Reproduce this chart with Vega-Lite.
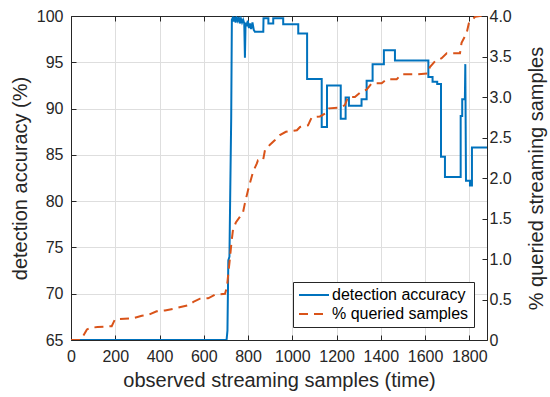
{
  "$schema": "https://vega.github.io/schema/vega-lite/v6.json",
  "width": 416,
  "height": 324,
  "autosize": {"type": "none"},
  "padding": {"left": 71, "top": 16, "right": 63, "bottom": 57},
  "config": {
    "view": {"stroke": null},
    "font": "Liberation Sans",
    "axis": {
      "domainColor": "#262626",
      "domainWidth": 1,
      "tickColor": "#262626",
      "tickSize": -5,
      "tickWidth": 1,
      "labelColor": "#262626",
      "labelFont": "Liberation Sans",
      "labelFontSize": 16,
      "titleColor": "#262626",
      "titleFont": "Liberation Sans",
      "titleFontSize": 20,
      "titleFontWeight": "normal",
      "gridColor": "#dedede",
      "gridWidth": 1
    }
  },
  "data": {
    "values": [
      {"series": "detection accuracy", "t": 0, "v": 65},
      {"series": "detection accuracy", "t": 703, "v": 65},
      {"series": "detection accuracy", "t": 707, "v": 66},
      {"series": "detection accuracy", "t": 711, "v": 73.6},
      {"series": "detection accuracy", "t": 716, "v": 74},
      {"series": "detection accuracy", "t": 720, "v": 81.6},
      {"series": "detection accuracy", "t": 724, "v": 89},
      {"series": "detection accuracy", "t": 727, "v": 99.6},
      {"series": "detection accuracy", "t": 731, "v": 99.8},
      {"series": "detection accuracy", "t": 735, "v": 99.4},
      {"series": "detection accuracy", "t": 739, "v": 99.9},
      {"series": "detection accuracy", "t": 744, "v": 99.3},
      {"series": "detection accuracy", "t": 748, "v": 99.8},
      {"series": "detection accuracy", "t": 753, "v": 99.5},
      {"series": "detection accuracy", "t": 758, "v": 99.9},
      {"series": "detection accuracy", "t": 763, "v": 99.2},
      {"series": "detection accuracy", "t": 768, "v": 99.7},
      {"series": "detection accuracy", "t": 773, "v": 99.3},
      {"series": "detection accuracy", "t": 778, "v": 99.6},
      {"series": "detection accuracy", "t": 783, "v": 99.2},
      {"series": "detection accuracy", "t": 786, "v": 95.5},
      {"series": "detection accuracy", "t": 789, "v": 99.3},
      {"series": "detection accuracy", "t": 794, "v": 98.9},
      {"series": "detection accuracy", "t": 799, "v": 99.5},
      {"series": "detection accuracy", "t": 804, "v": 98.7},
      {"series": "detection accuracy", "t": 809, "v": 99.2},
      {"series": "detection accuracy", "t": 814, "v": 98.6},
      {"series": "detection accuracy", "t": 820, "v": 99.3},
      {"series": "detection accuracy", "t": 826, "v": 98.5},
      {"series": "detection accuracy", "t": 831, "v": 98.3},
      {"series": "detection accuracy", "t": 869, "v": 98.3},
      {"series": "detection accuracy", "t": 870, "v": 99.75},
      {"series": "detection accuracy", "t": 892, "v": 99.75},
      {"series": "detection accuracy", "t": 892, "v": 99.2},
      {"series": "detection accuracy", "t": 914, "v": 99.2},
      {"series": "detection accuracy", "t": 914, "v": 99.75},
      {"series": "detection accuracy", "t": 959, "v": 99.75},
      {"series": "detection accuracy", "t": 959, "v": 99.1},
      {"series": "detection accuracy", "t": 1027, "v": 99.1},
      {"series": "detection accuracy", "t": 1027, "v": 98.1},
      {"series": "detection accuracy", "t": 1067, "v": 98.1},
      {"series": "detection accuracy", "t": 1067, "v": 93.2},
      {"series": "detection accuracy", "t": 1133, "v": 93.2},
      {"series": "detection accuracy", "t": 1133, "v": 88.0},
      {"series": "detection accuracy", "t": 1157, "v": 88.0},
      {"series": "detection accuracy", "t": 1157, "v": 92.5},
      {"series": "detection accuracy", "t": 1219, "v": 92.5},
      {"series": "detection accuracy", "t": 1219, "v": 88.9},
      {"series": "detection accuracy", "t": 1241, "v": 88.9},
      {"series": "detection accuracy", "t": 1241, "v": 91.2},
      {"series": "detection accuracy", "t": 1256, "v": 91.2},
      {"series": "detection accuracy", "t": 1256, "v": 90.3},
      {"series": "detection accuracy", "t": 1313, "v": 90.3},
      {"series": "detection accuracy", "t": 1313, "v": 91.0},
      {"series": "detection accuracy", "t": 1336, "v": 91.0},
      {"series": "detection accuracy", "t": 1336, "v": 93.0},
      {"series": "detection accuracy", "t": 1363, "v": 93.0},
      {"series": "detection accuracy", "t": 1363, "v": 94.8},
      {"series": "detection accuracy", "t": 1414, "v": 94.8},
      {"series": "detection accuracy", "t": 1414, "v": 96.3},
      {"series": "detection accuracy", "t": 1464, "v": 96.3},
      {"series": "detection accuracy", "t": 1464, "v": 95.2},
      {"series": "detection accuracy", "t": 1615, "v": 95.2},
      {"series": "detection accuracy", "t": 1615, "v": 93.4},
      {"series": "detection accuracy", "t": 1634, "v": 93.4},
      {"series": "detection accuracy", "t": 1634, "v": 92.9},
      {"series": "detection accuracy", "t": 1655, "v": 92.9},
      {"series": "detection accuracy", "t": 1655, "v": 92.65},
      {"series": "detection accuracy", "t": 1672, "v": 92.65},
      {"series": "detection accuracy", "t": 1672, "v": 84.8},
      {"series": "detection accuracy", "t": 1690, "v": 84.8},
      {"series": "detection accuracy", "t": 1690, "v": 82.6},
      {"series": "detection accuracy", "t": 1761, "v": 82.6},
      {"series": "detection accuracy", "t": 1761, "v": 89.2},
      {"series": "detection accuracy", "t": 1768, "v": 89.2},
      {"series": "detection accuracy", "t": 1768, "v": 91.0},
      {"series": "detection accuracy", "t": 1780, "v": 91.0},
      {"series": "detection accuracy", "t": 1782, "v": 94.8},
      {"series": "detection accuracy", "t": 1785, "v": 82.2},
      {"series": "detection accuracy", "t": 1803, "v": 82.2},
      {"series": "detection accuracy", "t": 1803, "v": 81.7},
      {"series": "detection accuracy", "t": 1812, "v": 81.7},
      {"series": "detection accuracy", "t": 1812, "v": 85.8},
      {"series": "detection accuracy", "t": 1880, "v": 85.8},
      {"series": "% queried samples", "t": 0, "v": 0},
      {"series": "% queried samples", "t": 45, "v": 0},
      {"series": "% queried samples", "t": 72, "v": 0.13},
      {"series": "% queried samples", "t": 86, "v": 0.15},
      {"series": "% queried samples", "t": 120, "v": 0.16},
      {"series": "% queried samples", "t": 184, "v": 0.17},
      {"series": "% queried samples", "t": 199, "v": 0.256},
      {"series": "% queried samples", "t": 282, "v": 0.27},
      {"series": "% queried samples", "t": 320, "v": 0.3},
      {"series": "% queried samples", "t": 350, "v": 0.31},
      {"series": "% queried samples", "t": 387, "v": 0.355},
      {"series": "% queried samples", "t": 425, "v": 0.365},
      {"series": "% queried samples", "t": 470, "v": 0.39},
      {"series": "% queried samples", "t": 530, "v": 0.43},
      {"series": "% queried samples", "t": 553, "v": 0.47},
      {"series": "% queried samples", "t": 583, "v": 0.51},
      {"series": "% queried samples", "t": 620, "v": 0.515},
      {"series": "% queried samples", "t": 651, "v": 0.56},
      {"series": "% queried samples", "t": 696, "v": 0.57},
      {"series": "% queried samples", "t": 705, "v": 0.66},
      {"series": "% queried samples", "t": 712, "v": 0.85},
      {"series": "% queried samples", "t": 718, "v": 1.0},
      {"series": "% queried samples", "t": 725, "v": 1.2},
      {"series": "% queried samples", "t": 732, "v": 1.36},
      {"series": "% queried samples", "t": 745, "v": 1.45},
      {"series": "% queried samples", "t": 763, "v": 1.52},
      {"series": "% queried samples", "t": 777, "v": 1.57},
      {"series": "% queried samples", "t": 786, "v": 1.69},
      {"series": "% queried samples", "t": 800, "v": 1.85},
      {"series": "% queried samples", "t": 809, "v": 1.94},
      {"series": "% queried samples", "t": 823, "v": 2.08},
      {"series": "% queried samples", "t": 840, "v": 2.18},
      {"series": "% queried samples", "t": 845, "v": 2.22},
      {"series": "% queried samples", "t": 868, "v": 2.22},
      {"series": "% queried samples", "t": 877, "v": 2.35},
      {"series": "% queried samples", "t": 899, "v": 2.41},
      {"series": "% queried samples", "t": 922, "v": 2.47},
      {"series": "% queried samples", "t": 944, "v": 2.53},
      {"series": "% queried samples", "t": 971, "v": 2.57},
      {"series": "% queried samples", "t": 1021, "v": 2.59},
      {"series": "% queried samples", "t": 1035, "v": 2.63},
      {"series": "% queried samples", "t": 1071, "v": 2.65},
      {"series": "% queried samples", "t": 1088, "v": 2.75},
      {"series": "% queried samples", "t": 1125, "v": 2.76},
      {"series": "% queried samples", "t": 1151, "v": 2.8},
      {"series": "% queried samples", "t": 1166, "v": 2.86},
      {"series": "% queried samples", "t": 1216, "v": 2.87},
      {"series": "% queried samples", "t": 1238, "v": 2.9},
      {"series": "% queried samples", "t": 1252, "v": 3.0},
      {"series": "% queried samples", "t": 1283, "v": 3.0},
      {"series": "% queried samples", "t": 1313, "v": 3.07},
      {"series": "% queried samples", "t": 1336, "v": 3.09},
      {"series": "% queried samples", "t": 1359, "v": 3.17},
      {"series": "% queried samples", "t": 1404, "v": 3.17},
      {"series": "% queried samples", "t": 1427, "v": 3.22},
      {"series": "% queried samples", "t": 1472, "v": 3.22},
      {"series": "% queried samples", "t": 1494, "v": 3.28},
      {"series": "% queried samples", "t": 1569, "v": 3.28},
      {"series": "% queried samples", "t": 1613, "v": 3.29},
      {"series": "% queried samples", "t": 1622, "v": 3.37},
      {"series": "% queried samples", "t": 1645, "v": 3.44},
      {"series": "% queried samples", "t": 1675, "v": 3.48},
      {"series": "% queried samples", "t": 1698, "v": 3.54},
      {"series": "% queried samples", "t": 1758, "v": 3.54},
      {"series": "% queried samples", "t": 1765, "v": 3.67},
      {"series": "% queried samples", "t": 1788, "v": 3.79},
      {"series": "% queried samples", "t": 1798, "v": 3.91},
      {"series": "% queried samples", "t": 1826, "v": 3.99},
      {"series": "% queried samples", "t": 1848, "v": 4.0},
      {"series": "% queried samples", "t": 1880, "v": 4.0}
    ]
  },
  "encoding": {
    "color": {
      "field": "series",
      "type": "nominal",
      "scale": {"domain": ["detection accuracy", "% queried samples"], "range": ["#0072BD", "#D95319"]},
      "legend": {
        "title": null,
        "orient": "none",
        "legendX": 222,
        "legendY": 266,
        "direction": "vertical",
        "strokeColor": "#262626",
        "fillColor": "white",
        "padding": 5,
        "labelFont": "Liberation Sans",
        "labelFontSize": 16,
        "labelColor": "#000000",
        "labelLimit": 400,
        "labelOffset": 2,
        "symbolType": "stroke",
        "symbolSize": 900,
        "symbolStrokeWidth": 2,
        "clipHeight": 16,
        "rowPadding": 3
      }
    },
    "strokeDash": {
      "field": "series",
      "type": "nominal",
      "scale": {"domain": ["detection accuracy", "% queried samples"], "range": [[1, 0], [9, 6]]},
      "legend": {
        "title": null,
        "orient": "none",
        "legendX": 222,
        "legendY": 266,
        "direction": "vertical",
        "strokeColor": "#262626",
        "fillColor": "white",
        "padding": 5,
        "labelFont": "Liberation Sans",
        "labelFontSize": 16,
        "labelColor": "#000000",
        "labelLimit": 400,
        "labelOffset": 2,
        "symbolType": "stroke",
        "symbolSize": 900,
        "symbolStrokeWidth": 2,
        "clipHeight": 16,
        "rowPadding": 3
      }
    }
  },
  "layer": [
    {
      "transform": [{"filter": "datum.series === 'detection accuracy'"}],
      "mark": {"type": "line", "strokeWidth": 2, "clip": true},
      "encoding": {
        "x": {
          "field": "t",
          "type": "quantitative",
          "scale": {"domain": [0, 1880], "nice": false, "zero": false},
          "axis": {
            "orient": "bottom",
            "title": "observed streaming samples (time)",
            "values": [0, 200, 400, 600, 800, 1000, 1200, 1400, 1600, 1800],
            "format": "d",
            "grid": true,
            "labelPadding": 13,
            "titlePadding": 6,
            "labelFlush": false
          }
        },
        "y": {
          "field": "v",
          "type": "quantitative",
          "scale": {"domain": [65, 100], "nice": false, "zero": false},
          "axis": {
            "orient": "left",
            "title": "detection accuracy (%)",
            "values": [65, 70, 75, 80, 85, 90, 95, 100],
            "grid": true,
            "labelPadding": 13,
            "titlePadding": 6,
            "labelFlush": false
          }
        }
      }
    },
    {
      "transform": [{"filter": "datum.series === '% queried samples'"}],
      "mark": {"type": "line", "strokeWidth": 2, "clip": true},
      "encoding": {
        "x": {
          "field": "t",
          "type": "quantitative",
          "scale": {"domain": [0, 1880], "nice": false, "zero": false},
          "axis": {
            "orient": "top",
            "title": null,
            "labels": false,
            "values": [0, 200, 400, 600, 800, 1000, 1200, 1400, 1600, 1800],
            "grid": false
          }
        },
        "y": {
          "field": "v",
          "type": "quantitative",
          "scale": {"domain": [0, 4], "nice": false, "zero": false},
          "axis": {
            "orient": "right",
            "title": "% queried streaming samples",
            "titleAngle": 270,
            "titleBaseline": "top",
            "values": [0, 0.5, 1, 1.5, 2, 2.5, 3, 3.5, 4],
            "labelExpr": "datum.value == 0 ? '0' : format(datum.value, '.1f')",
            "grid": false,
            "labelPadding": 7,
            "titlePadding": 15,
            "labelFlush": false
          }
        }
      }
    }
  ],
  "resolve": {"scale": {"y": "independent"}, "axis": {"x": "independent", "y": "independent"}}
}
